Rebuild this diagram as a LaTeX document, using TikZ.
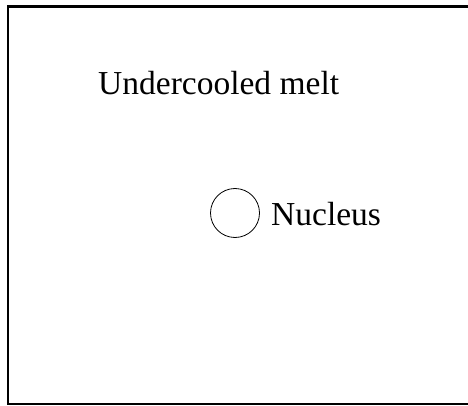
\documentclass[tikz,border=0pt]{standalone}
\usepackage{fontspec}
\setmainfont{Liberation Serif}
\tikzset{
    lbl/.style={inner sep=0pt, anchor=base west, font=\fontsize{33.5}{40}\selectfont},
}

\begin{document}
\begin{tikzpicture}[x=1pt,y=-1pt]
\useasboundingbox (0,0) rectangle (468,406);
\draw[line width=2.2pt] (8,6.5) rectangle (475,404);

\node[lbl] (melt) at (98,95) {Undercooled melt};
\node[draw, circle, minimum size=49pt, inner sep=0pt, line width=0.8pt] (nucleus) at (235,213) {};
\node[lbl] (nuclabel) at (271,225) {Nucleus};
\end{tikzpicture}
\end{document}
